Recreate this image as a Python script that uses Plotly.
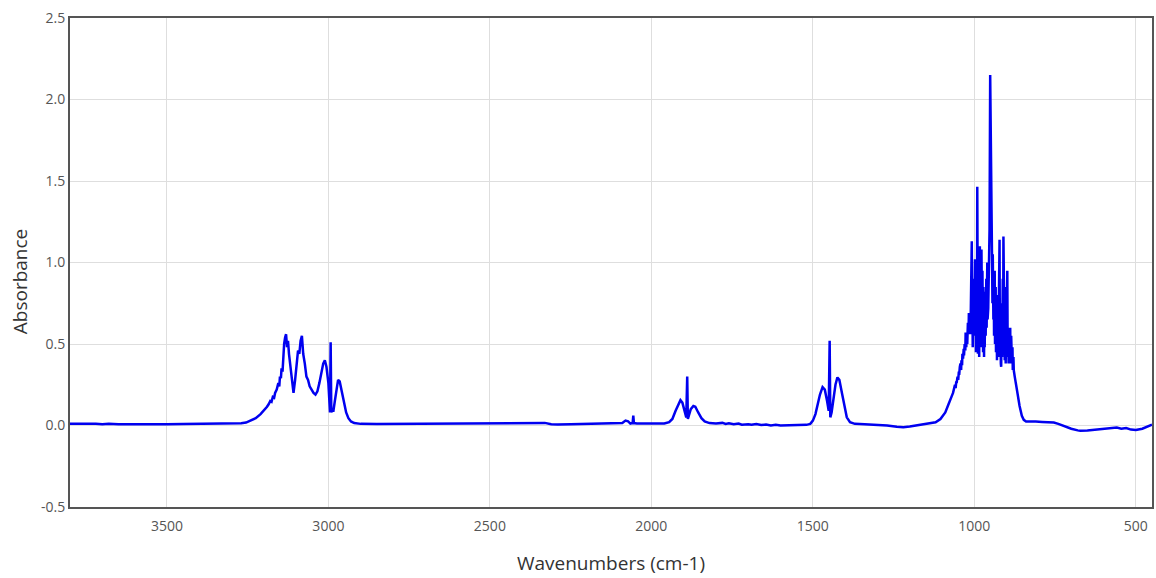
import plotly.graph_objects as go

# Wavenumber (cm-1) and absorbance
wavenumber = [
    3800, 3780, 3750, 3720, 3700, 3680, 3650, 3600, 3550, 3500, 3450, 3400, 3350, 3300,
    3270, 3255, 3240, 3225, 3210, 3200, 3190, 3185, 3180, 3176, 3172, 3168, 3165, 3160,
    3155, 3152, 3150, 3147, 3145, 3142, 3140, 3137, 3134, 3131, 3128, 3125, 3122, 3118,
    3113, 3108, 3103, 3098, 3094, 3090, 3086, 3082, 3078, 3073, 3068, 3063, 3058, 3052,
    3046, 3040, 3034, 3028, 3022, 3016, 3011, 3006, 3000, 2997, 2995, 2993, 2991, 2988,
    2984, 2980, 2975, 2970, 2965, 2960, 2952, 2945, 2938, 2930, 2920, 2900, 2850, 2800,
    2750, 2700, 2650, 2600, 2550, 2500, 2450, 2400, 2360, 2330, 2310, 2290, 2250, 2200,
    2150, 2100, 2090, 2080, 2072, 2065, 2058, 2056, 2054, 2045, 2000, 1960, 1945, 1935,
    1925, 1915, 1910, 1904, 1897, 1892, 1889, 1887, 1884, 1878, 1870, 1864, 1855, 1845,
    1835, 1820, 1800, 1780, 1770, 1760, 1745, 1730, 1720, 1700, 1690, 1675, 1660, 1645,
    1630, 1615, 1600, 1580, 1560, 1540, 1520, 1508, 1500, 1492, 1485, 1478, 1470, 1463,
    1456, 1451, 1448, 1446, 1442, 1436, 1430, 1424, 1418, 1410, 1402, 1395, 1385, 1370,
    1340, 1300, 1270, 1240, 1220, 1200, 1180, 1160, 1140, 1120, 1105, 1090, 1080, 1075,
    1070, 1066, 1063, 1060, 1058, 1056, 1055, 1052, 1050, 1048, 1047, 1045, 1043, 1041,
    1040, 1038, 1037, 1035, 1033, 1032, 1030, 1028, 1027, 1025, 1024, 1022, 1020, 1018,
    1017, 1015, 1014, 1012, 1011, 1010, 1008, 1007, 1006, 1005, 1004, 1003, 1001, 1000,
    998, 997, 996, 995, 994, 992, 991, 989, 988, 987, 986, 985, 983, 982, 981,
    979, 978, 976, 975, 973, 972, 970, 969, 968, 966, 965, 963, 962, 960, 959,
    958, 957, 956, 955, 953, 951, 949, 948, 947, 946, 945, 944, 943, 941, 940,
    939, 937, 936, 934, 933, 931, 930, 929, 927, 926, 924, 922, 921, 920, 918,
    917, 915, 914, 912, 911, 910, 908, 907, 906, 904, 903, 901, 900, 898, 897,
    895, 894, 892, 891, 889, 888, 886, 884, 882, 881, 879, 878, 875, 872, 868,
    864, 860, 853, 847, 840, 827, 810, 790, 770, 754, 740, 720, 700, 680, 672,
    650, 620, 590, 570, 559, 545, 530, 515, 500, 480, 465, 450,
]
absorbance = [
    0.010, 0.011, 0.009, 0.010, 0.008, 0.010, 0.007, 0.006, 0.007, 0.008, 0.009, 0.010, 0.011, 0.012,
    0.014, 0.018, 0.030, 0.045, 0.070, 0.090, 0.115, 0.130, 0.150, 0.145, 0.175, 0.170, 0.200, 0.220,
    0.260, 0.240, 0.300, 0.290, 0.350, 0.330, 0.420, 0.500, 0.540, 0.560, 0.480, 0.520, 0.440, 0.360,
    0.260, 0.200, 0.280, 0.400, 0.460, 0.440, 0.520, 0.550, 0.440, 0.380, 0.300, 0.280, 0.240, 0.220,
    0.200, 0.190, 0.210, 0.260, 0.330, 0.380, 0.400, 0.360, 0.260, 0.120, 0.080, 0.510, 0.080, 0.100,
    0.095, 0.150, 0.230, 0.280, 0.270, 0.220, 0.140, 0.080, 0.045, 0.025, 0.015, 0.010, 0.009, 0.010,
    0.011, 0.010, 0.011, 0.012, 0.012, 0.013, 0.013, 0.014, 0.015, 0.016, 0.008, 0.006, 0.008, 0.010,
    0.010, 0.010, 0.015, 0.030, 0.025, 0.012, 0.015, 0.060, 0.015, 0.012, 0.012, 0.012, 0.020, 0.040,
    0.090, 0.140, 0.155, 0.140, 0.090, 0.050, 0.300, 0.040, 0.060, 0.100, 0.120, 0.115, 0.080, 0.045,
    0.025, 0.015, 0.012, 0.016, 0.010, 0.014, 0.008, 0.012, 0.005, 0.008, 0.004, 0.009, 0.003, 0.006,
    0.000, 0.004, 0.000, 0.002, 0.000, 0.003, 0.004, 0.010, 0.030, 0.070, 0.130, 0.190, 0.235, 0.220,
    0.150, 0.090, 0.520, 0.050, 0.080, 0.160, 0.250, 0.295, 0.280, 0.200, 0.110, 0.050, 0.020, 0.010,
    0.008, 0.005, 0.000, -0.008, -0.010, -0.006, 0.000, 0.006, 0.012, 0.020, 0.040, 0.080, 0.130, 0.150,
    0.180, 0.200, 0.220, 0.250, 0.230, 0.270, 0.260, 0.300, 0.280, 0.330, 0.310, 0.360, 0.380, 0.340,
    0.400, 0.370, 0.440, 0.410, 0.470, 0.430, 0.500, 0.460, 0.570, 0.480, 0.540, 0.500, 0.630, 0.560,
    0.690, 0.600, 0.660, 0.560, 0.720, 0.780, 1.130, 0.620, 0.750, 0.480, 0.900, 0.550, 0.880, 0.600,
    1.020, 0.520, 0.880, 0.450, 0.750, 0.550, 1.465, 0.440, 0.900, 0.600, 1.080, 0.420, 1.100, 0.500, 1.050,
    0.480, 1.080, 0.550, 0.950, 0.450, 0.850, 0.420, 0.800, 0.480, 0.820, 0.550, 0.900, 0.600, 1.000, 0.650,
    0.900, 0.720, 0.850, 1.020, 1.200, 2.150, 1.510, 1.250, 0.980, 1.100, 0.970, 0.750, 1.050, 0.650, 0.900,
    0.550, 0.950, 0.500, 0.850, 0.450, 0.700, 0.400, 0.545, 0.800, 0.420, 0.950, 1.140, 0.500, 0.700, 0.380,
    0.360, 0.750, 0.420, 0.900, 0.480, 1.160, 0.550, 0.700, 0.400, 0.600, 0.380, 0.850, 0.420, 0.950, 0.500,
    0.600, 0.380, 0.550, 0.460, 0.600, 0.380, 0.550, 0.400, 0.480, 0.340, 0.420, 0.340, 0.300, 0.260, 0.200,
    0.160, 0.120, 0.060, 0.035, 0.025, 0.023, 0.025, 0.022, 0.020, 0.018, 0.010, -0.005, -0.020, -0.030, -0.032,
    -0.030, -0.025, -0.022, -0.018, -0.013, -0.020, -0.015, -0.025, -0.028, -0.020, -0.008, 0.005,
]

x_ticks = [3500, 3000, 2500, 2000, 1500, 1000, 500]
y_ticks = [-0.5, 0.0, 0.5, 1.0, 1.5, 2.0, 2.5]

fig = go.Figure()
fig.add_trace(go.Scatter(
    x=wavenumber, y=absorbance, mode="lines",
    line=dict(color="#0000f0", width=2.5),
    showlegend=False, hoverinfo="x+y",
))

font_family = "Open Sans, Noto Sans, sans-serif"
fig.update_layout(
    width=1156, height=578,
    margin=dict(l=70, r=2, t=18, b=71),
    paper_bgcolor="white", plot_bgcolor="white",
    font=dict(family=font_family, color="#555555", size=14),
    xaxis=dict(
        range=[3800, 450],
        tickvals=x_ticks, ticktext=[str(v) for v in x_ticks],
        showgrid=True, gridcolor="#dedede", gridwidth=1,
        showline=True, linecolor="#555555", linewidth=2, mirror=True,
        zeroline=False, ticks="", ticklabelstandoff=5,
        title=dict(text="Wavenumbers (cm-1)", font=dict(size=19, color="#333333"), standoff=23),
    ),
    yaxis=dict(
        range=[-0.5, 2.5],
        tickvals=y_ticks, ticktext=[f"{v:.1f}" for v in y_ticks],
        showgrid=True, gridcolor="#dedede", gridwidth=1,
        showline=True, linecolor="#555555", linewidth=2, mirror=True,
        zeroline=False, ticks="",
    ),
    annotations=[dict(
        text="Absorbance", textangle=-90, showarrow=False,
        xref="paper", yref="paper", x=-0.0461, y=0.462,
        xanchor="center", yanchor="middle",
        font=dict(size=19, color="#333333", family=font_family),
    )],
)

fig.write_html("out.html")
